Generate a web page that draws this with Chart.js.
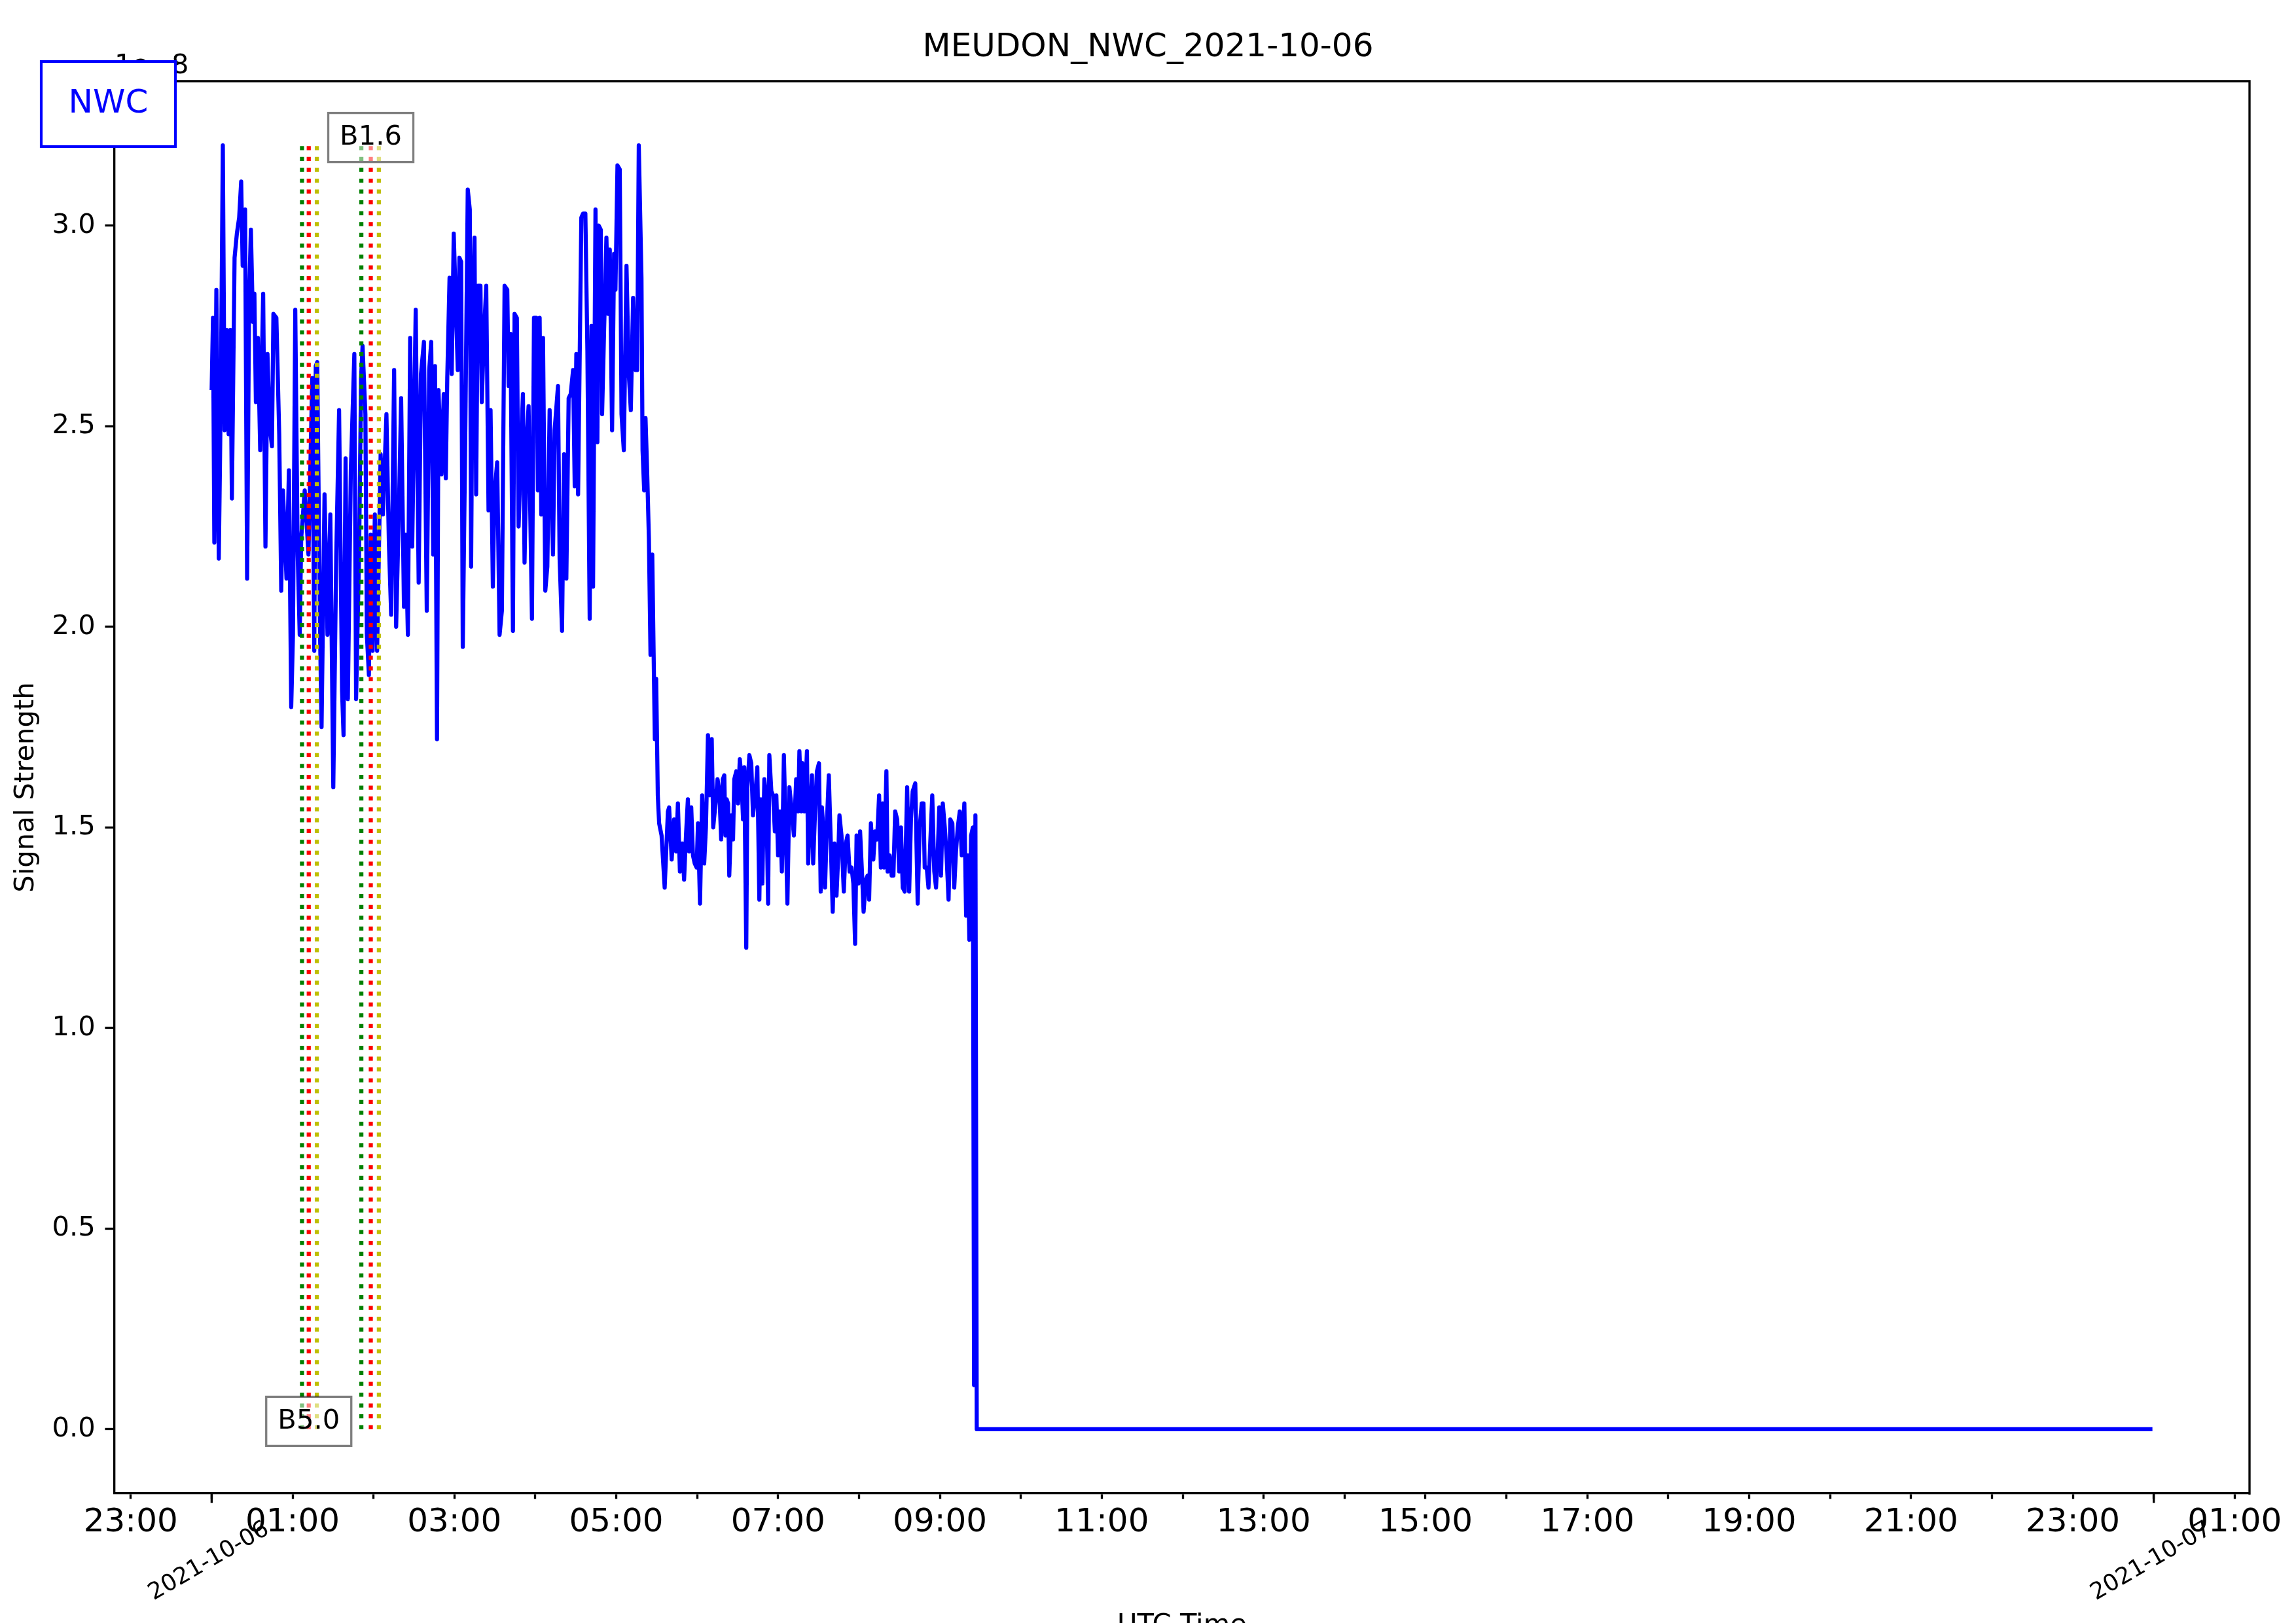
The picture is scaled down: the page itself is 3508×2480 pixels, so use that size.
<!DOCTYPE html>
<html>
<head>
<meta charset="utf-8">
<title>MEUDON_NWC_2021-10-06</title>
<script src="https://cdn.jsdelivr.net/npm/chart.js@4.4.0/dist/chart.umd.min.js"></script>
<style>
html,body{margin:0;padding:0;background:#fff;overflow:hidden}
canvas{display:block}
</style>
</head>
<body>
<canvas id="c" width="3508" height="2480" style="width:3508px;height:2480px"></canvas>
<script>
// ---------- texts ----------
const chartTitle = 'MEUDON_NWC_2021-10-06';
const stationLabel = 'NWC';
const yAxisTitle = 'Signal Strength';
const xAxisTitle = 'UTC Time';
const yMultiplierLabel = '1e\u22128';

// ---------- data: minutes after 2021-10-06 00:00 UTC, signal in units of 1e-8 ----------
const sampleMinutes = [
  0, 1, 2, 3.5, 5.3, 6.8, 8.3, 9.6, 11.1, 12.6,
  13.9, 15.0, 17.0, 18.7, 20.4, 21.9, 23.0, 24.8, 26.3, 27.8,
  29.1, 30.6, 31.7, 32.8, 34.3, 36.0, 38.2, 39.9, 41.4, 43.0,
  44.7, 45.8, 48.0, 50.1, 51.6, 52.9, 55.5, 57.3, 59.0, 60.3,
  62.0, 63.8, 65.3, 66.4, 69.0, 71.8, 74.6, 76.1, 77.2, 78.3,
  80.4, 81.5, 83.7, 85.9, 88.0, 90.2, 92.4, 94.5, 96.7, 97.8,
  99.3, 101.0, 103.2, 105.8, 107.1, 109.3, 110.8, 111.9, 114.0, 115.1,
  116.6, 117.9, 119.4, 121.0, 122.7, 125.3, 127.0, 129.6, 131.4, 133.1,
  135.3, 136.8, 138.9, 140.5, 142.6, 143.9, 145.5, 147.2, 148.7, 151.3,
  153.5, 155.2, 157.4, 159.5, 161.3, 162.8, 164.3, 165.6, 167.1, 168.2,
  170.4, 172.1, 173.6, 174.7, 176.4, 178.0, 179.5,
  182.5, 183.7, 185.0, 186.2, 188.0, 189.9, 191.4, 192.4, 193.6, 194.9,
  196.1, 197.4, 199.3, 200.3, 201.8, 203.6, 205.3, 206.8, 208.5, 209.7,
  211.7, 213.5, 215.2, 217.2, 219.2, 220.2, 221.6, 223.4, 224.6, 226.3,
  227.6, 229.6, 230.8, 232.0, 233.8, 235.0, 237.5, 239.0, 240.7, 241.9,
  243.2, 244.4, 245.7, 247.4, 248.9, 250.6, 253.1, 254.3, 256.8, 258.0,
  259.8, 261.3, 263.0, 264.7, 266.2, 268.0, 269.2, 270.4, 271.7, 274.1,
  275.4, 277.1, 278.6, 280.3, 281.6, 282.8, 284.6, 286.0, 287.0, 288.5,
  289.5, 291.0, 292.7, 294.0, 295.2, 296.9, 298.4, 299.4, 300.9, 302.6,
  303.9, 305.6, 307.6, 309.3, 310.8, 312.5, 314.3, 315.5, 316.7, 318.7,
  319.5, 320.7, 321.7, 322.9, 324.2, 325.4, 326.7, 328.6, 329.6,
  330.8, 331.8, 333.6, 335.9, 338.3, 339.2, 341.1, 342.9, 344.4, 345.7,
  347.2, 348.9, 350.3, 351.7, 353.1, 354.1, 355.6, 356.9, 358.2, 359.6,
  360.6, 362.1, 363.7, 365.2, 366.5, 368.0, 369.3, 370.8, 371.9, 373.6,
  375.1, 376.4, 377.8, 379.0, 380.1, 381.0, 381.9, 382.9, 383.8, 385.3,
  386.6, 387.5, 389.0, 390.3, 391.6, 392.7, 394.0, 394.9, 396.4, 397.2,
  398.7, 400.1, 401.4, 403.3, 404.6, 406.1, 407.2, 408.3, 409.8, 411.3,
  412.6, 413.5, 415.0, 416.3, 417.6, 418.7, 420.0, 421.3, 422.8, 424.3,
  425.6, 426.9, 428.4, 429.9, 431.7, 433.4, 434.9, 435.8, 437.3, 438.0,
  439.5, 441.4, 442.3, 443.6, 445.1, 446.0, 447.3, 448.8, 450.3, 451.6,
  452.5, 453.5, 454.8, 456.3, 457.6, 459.0, 460.5, 461.8, 463.3, 464.6,
  465.5, 467.0, 468.7, 470.2, 471.5, 473.0, 474.5, 475.8, 477.1, 478.2,
  479.5, 480.8, 482.3, 483.4, 485.1, 486.4, 487.5, 488.8, 490.6, 491.9,
  493.4, 494.9, 496.2, 497.5, 498.6, 500.3, 501.2, 502.7, 504.2, 505.5,
  506.8, 508.3, 509.8, 511.1, 512.4, 513.9, 515.7, 517.2, 518.5, 519.8,
  521.7, 523.5, 525.0, 526.5, 527.8, 528.7, 530.2, 531.5, 532.8, 534.3,
  535.8, 537.1, 538.4, 539.5, 540.8, 542.1, 543.6, 544.9, 546.4, 547.7,
  549.2, 550.6, 551.9, 553.2, 554.7, 556.2, 558.1, 559.4, 560.7, 561.8,
  563.1, 564.4, 565.3, 566.3, 567.3, 1439
];
const signalValues = [
  2.59, 2.77, 2.21, 2.84, 2.17, 2.58, 3.20, 2.49, 2.74, 2.48,
  2.74, 2.32, 2.92, 2.98, 3.02, 3.11, 2.90, 3.04, 2.12, 2.82,
  2.99, 2.76, 2.83, 2.56, 2.72, 2.44, 2.83, 2.20, 2.68, 2.50,
  2.45, 2.78, 2.77, 2.48, 2.09, 2.34, 2.12, 2.39, 1.80, 1.98,
  2.79, 2.18, 1.98, 2.22, 2.34, 2.18, 2.62, 1.94, 2.65, 2.66,
  1.98, 1.75, 2.33, 1.98, 2.28, 1.60, 2.18, 2.54, 1.84, 1.73,
  2.42, 1.82, 2.39, 2.68, 1.82, 2.18, 2.62, 2.70, 2.53, 1.98,
  1.88, 2.23, 1.94, 2.28, 1.94, 2.43, 2.28, 2.53, 2.21, 2.03,
  2.64, 2.00, 2.30, 2.57, 2.05, 2.23, 1.98, 2.72, 2.20, 2.79,
  2.11, 2.63, 2.71, 2.04, 2.64, 2.71, 2.18, 2.65, 1.72, 2.59,
  2.38, 2.58, 2.37, 2.62, 2.87, 2.63, 2.98,
  2.64, 2.92, 2.91, 1.95, 2.46, 3.09, 3.04, 2.15, 2.79, 2.97,
  2.33, 2.85, 2.85, 2.56, 2.72, 2.85, 2.29, 2.54, 2.10, 2.33,
  2.41, 1.98, 2.04, 2.85, 2.84, 2.60, 2.73, 1.99, 2.78, 2.77,
  2.25, 2.47, 2.58, 2.16, 2.48, 2.55, 2.02, 2.77, 2.77, 2.34,
  2.77, 2.28, 2.72, 2.09, 2.15, 2.54, 2.18, 2.49, 2.60, 2.17,
  1.99, 2.43, 2.12, 2.57, 2.58, 2.64, 2.35, 2.68, 2.33, 3.02,
  3.03, 3.03, 2.69, 2.02, 2.75, 2.10, 3.04, 2.46, 3.00, 2.99,
  2.53, 2.74, 2.97, 2.78, 2.94, 2.49, 2.93, 2.84, 3.15, 3.14,
  2.53, 2.44, 2.90, 2.63, 2.54, 2.82, 2.64, 2.64, 3.20, 2.87,
  2.44, 2.34, 2.52, 2.39, 2.22, 1.93, 2.18, 1.72, 1.87,
  1.58, 1.51, 1.48, 1.35, 1.54, 1.55, 1.42, 1.52, 1.44, 1.56,
  1.39, 1.46, 1.37, 1.48, 1.57, 1.44, 1.55, 1.43, 1.41, 1.40,
  1.51, 1.31, 1.58, 1.41, 1.50, 1.73, 1.58, 1.72, 1.50, 1.56,
  1.62, 1.59, 1.47, 1.62, 1.63, 1.48, 1.57, 1.56, 1.38, 1.53,
  1.47, 1.62, 1.64, 1.56, 1.67, 1.63, 1.52, 1.65, 1.20, 1.60,
  1.68, 1.66, 1.53, 1.59, 1.65, 1.32, 1.57, 1.36, 1.62, 1.57,
  1.31, 1.68, 1.59, 1.58, 1.49, 1.58, 1.43, 1.54, 1.39, 1.68,
  1.50, 1.31, 1.60, 1.55, 1.48, 1.62, 1.54, 1.69, 1.54, 1.66,
  1.54, 1.69, 1.41, 1.52, 1.63, 1.41, 1.53, 1.64, 1.66, 1.34,
  1.55, 1.50, 1.35, 1.52, 1.63, 1.47, 1.29, 1.46, 1.33, 1.43,
  1.53, 1.48, 1.34, 1.46, 1.48, 1.39, 1.40, 1.36, 1.21, 1.48,
  1.36, 1.49, 1.38, 1.29, 1.37, 1.38, 1.32, 1.51, 1.42, 1.49,
  1.47, 1.58, 1.40, 1.56, 1.40, 1.64, 1.39, 1.43, 1.38, 1.38,
  1.54, 1.52, 1.39, 1.50, 1.35, 1.34, 1.60, 1.34, 1.52, 1.59,
  1.61, 1.31, 1.50, 1.56, 1.56, 1.40, 1.40, 1.35, 1.46, 1.58,
  1.39, 1.35, 1.44, 1.55, 1.38, 1.56, 1.50, 1.43, 1.32, 1.52,
  1.51, 1.35, 1.44, 1.50, 1.54, 1.43, 1.56, 1.28, 1.43, 1.22,
  1.48, 1.50, 0.11, 1.53, 0.00, 0.00
];

// ---------- flare markers (minutes after 00:00) ----------
const flareClasses = ['B5.0', 'B1.6'];
const flareStartMinutes = [67, 111];
const flarePeakMinutes = [72, 118];
const flareEndMinutes = [78, 124];
const flareLabelValues = [0, 3.2];

// ---------- axes ----------
const xRange = [-72, 1511];
const yRange = [-0.16, 3.36];
const xTickMinutes = [-60, 0, 60, 120, 180, 240, 300, 360, 420, 480, 540, 600, 660, 720,
  780, 840, 900, 960, 1020, 1080, 1140, 1200, 1260, 1320, 1380, 1440, 1500];
const xTickLabels = ['23:00', '', '01:00', '', '03:00', '', '05:00', '', '07:00', '', '09:00', '', '11:00', '',
  '13:00', '', '15:00', '', '17:00', '', '19:00', '', '21:00', '', '23:00', '', '01:00'];
const dateTickMinutes = [0, 1440];
const dateTickLabels = ['2021-10-06', '2021-10-07'];
const yTickValues = [0, 0.5, 1.0, 1.5, 2.0, 2.5, 3.0];

// ---------- build ----------
const FONT = "'DejaVu Sans', 'Liberation Sans', sans-serif";
const PT = 300 / 72; // px per point

const signalPoints = sampleMinutes.map((m, i) => ({ x: m, y: signalValues[i] }));
const peakValue = Math.max(...signalValues);

const datasets = [{
  label: stationLabel,
  data: signalPoints,
  borderColor: '#0000ff',
  borderWidth: 1.5 * PT,
  pointRadius: 0,
  tension: 0,
  fill: false,
  borderJoinStyle: 'round',
  borderCapStyle: 'butt',
  order: 1
}];
const markerColors = ['#008000', '#ff0000', '#bfbf00'];
flareClasses.forEach((c, i) => {
  [flareStartMinutes[i], flarePeakMinutes[i], flareEndMinutes[i]].forEach((t, k) => {
    datasets.push({
      label: c + '-' + k,
      data: [{ x: t, y: 0 }, { x: t, y: peakValue }],
      borderColor: markerColors[k],
      borderWidth: 1.5 * PT,
      borderDash: [1.5 * PT, 2.475 * PT],
      borderCapStyle: 'butt',
      pointRadius: 0,
      fill: false,
      order: 0
    });
  });
});

const AX_LEFT = 175, AX_RIGHT_PAD = 71, AX_TOP = 124, X_AXIS_H = 198;

const decor = {
  id: 'decor',
  afterDatasetsDraw(chart) {
    const { ctx, scales: { x, y } } = chart;
    ctx.save();
    ctx.font = `${10 * PT}px ${FONT}`;
    flareClasses.forEach((c, i) => {
      const cx = x.getPixelForValue(flarePeakMinutes[i]);
      const cy = y.getPixelForValue(flareLabelValues[i]) - 12;
      const w = 130, h = 75;
      ctx.fillStyle = 'rgba(255,255,255,0.5)';
      ctx.fillRect(cx - w / 2, cy - h / 2, w, h);
      ctx.strokeStyle = 'rgba(0,0,0,0.5)';
      ctx.lineWidth = 0.8 * PT;
      ctx.strokeRect(cx - w / 2, cy - h / 2, w, h);
      ctx.fillStyle = '#000';
      ctx.textAlign = 'center';
      ctx.textBaseline = 'middle';
      ctx.fillText(c, cx, cy);
    });
    ctx.restore();
  },
  afterDraw(chart) {
    const { ctx, chartArea: a, scales: { x } } = chart;
    ctx.save();
    // top & right spines
    ctx.strokeStyle = '#000';
    ctx.lineWidth = 0.8 * PT;
    ctx.lineCap = 'square';
    ctx.beginPath();
    ctx.moveTo(a.left, a.top);
    ctx.lineTo(a.right, a.top);
    ctx.lineTo(a.right, a.bottom);
    ctx.stroke();
    // midnight major ticks and date labels
    ctx.lineCap = 'butt';
    dateTickMinutes.forEach((m, i) => {
      const px = x.getPixelForValue(m);
      ctx.beginPath();
      ctx.moveTo(px, a.bottom);
      ctx.lineTo(px, a.bottom + 3.5 * PT);
      ctx.stroke();
      ctx.save();
      ctx.translate(px - 4, 2386);
      ctx.rotate(-Math.PI / 6);
      ctx.font = `${8.5 * PT}px ${FONT}`;
      ctx.fillStyle = '#000';
      ctx.textAlign = 'center';
      ctx.textBaseline = 'middle';
      ctx.fillText(dateTickLabels[i], 0, 0);
      ctx.restore();
    });
    // figure title
    ctx.fillStyle = '#000';
    ctx.font = `${12 * PT}px ${FONT}`;
    ctx.textAlign = 'center';
    ctx.textBaseline = 'alphabetic';
    ctx.fillText(chartTitle, chart.width / 2, 86);
    // offset (multiplier) text
    ctx.font = `${10 * PT}px ${FONT}`;
    ctx.textAlign = 'left';
    ctx.fillText(yMultiplierLabel, a.left, 112);
    // station box
    ctx.fillStyle = '#fff';
    ctx.fillRect(63, 94, 205, 130);
    ctx.strokeStyle = '#0000ff';
    ctx.lineWidth = 1 * PT;
    ctx.strokeRect(63, 94, 205, 130);
    ctx.fillStyle = '#0000ff';
    ctx.font = `${12 * PT}px ${FONT}`;
    ctx.textAlign = 'center';
    ctx.textBaseline = 'middle';
    ctx.fillText(stationLabel, 165.5, 159);
    ctx.restore();
  }
};

new Chart(document.getElementById('c'), {
  type: 'line',
  data: { datasets },
  options: {
    responsive: false,
    animation: false,
    devicePixelRatio: 1,
    events: [],
    layout: { padding: { left: 0, right: AX_RIGHT_PAD, top: AX_TOP, bottom: 0 } },
    plugins: { legend: { display: false }, tooltip: { enabled: false }, title: { display: false } },
    scales: {
      x: {
        type: 'linear',
        position: 'bottom',
        bounds: 'data',
        min: xRange[0],
        max: xRange[1],
        afterFit: s => { s.height = X_AXIS_H; },
        afterBuildTicks: s => { s.ticks = xTickMinutes.map(v => ({ value: v })); },
        ticks: {
          autoSkip: false, maxRotation: 0, minRotation: 0, padding: 6.3,
          color: '#000', font: { family: FONT, size: 12 * PT },
          callback: (v, i) => xTickLabels[i]
        },
        grid: { display: true, drawOnChartArea: false, drawTicks: true, tickLength: 2 * PT,
                tickWidth: 0.8 * PT, tickColor: '#000', color: '#000' },
        border: { display: true, color: '#000', width: 0.8 * PT },
        title: { display: true, text: xAxisTitle, color: '#000',
                 font: { family: FONT, size: 10 * PT }, padding: { top: 0, bottom: -29 } }
      },
      y: {
        type: 'linear',
        position: 'left',
        bounds: 'data',
        min: yRange[0],
        max: yRange[1],
        afterFit: s => { s.width = AX_LEFT; },
        afterBuildTicks: s => { s.ticks = yTickValues.map(v => ({ value: v })); },
        ticks: {
          padding: 3.5 * PT, color: '#000', font: { family: FONT, size: 10 * PT },
          callback: v => Number(v).toFixed(1)
        },
        grid: { display: true, drawOnChartArea: false, drawTicks: true, tickLength: 3.5 * PT,
                tickWidth: 0.8 * PT, tickColor: '#000', color: '#000' },
        border: { display: true, color: '#000', width: 0.8 * PT },
        title: { display: true, text: yAxisTitle, color: '#000',
                 font: { family: FONT, size: 10 * PT }, padding: { top: 15, bottom: 0 } }
      }
    }
  },
  plugins: [decor]
});
</script>
</body>
</html>
